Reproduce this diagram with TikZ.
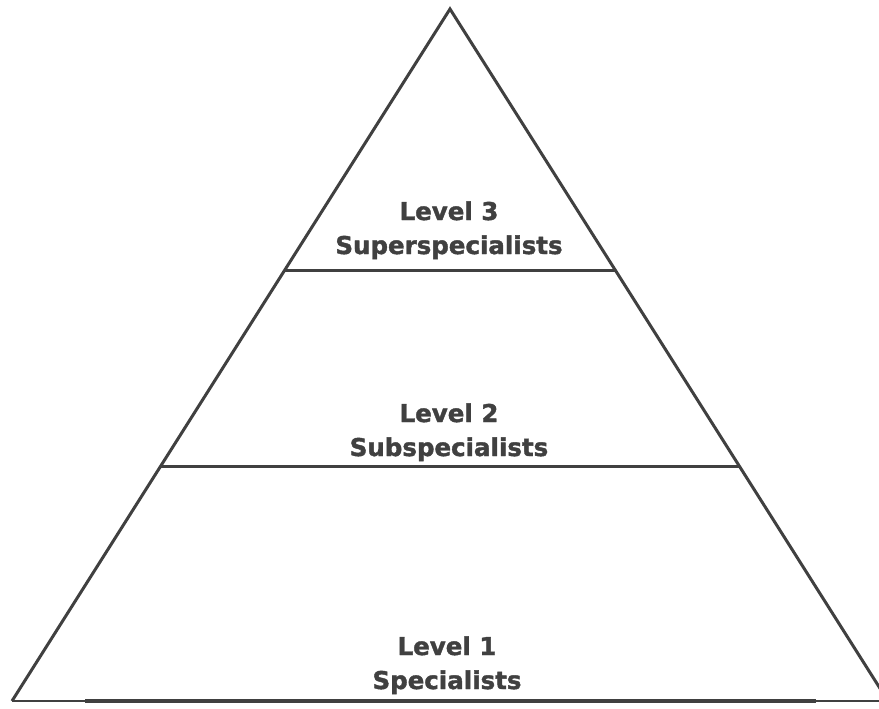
\documentclass[tikz,border=0pt]{standalone}
\usepackage{fontspec}
\setmainfont{DejaVu Sans}[BoldFeatures={FakeBold=1.6}]
\definecolor{pyrgray}{HTML}{404040}
\begin{document}
\begin{tikzpicture}[x=1pt,y=-1pt]
    \tikzstyle{every node}+=[inner sep=0pt, text=pyrgray, font=\fontsize{24.5}{30}\selectfont\bfseries]
    \tikzstyle{edge}=[draw=pyrgray, line width=3pt]
    \clip (0,0) rectangle (879,709);
    % outline of the pyramid
    \coordinate (top) at (450,9);
    \coordinate (bl) at (12,701);
    \coordinate (br) at (888,701);
    \draw [edge] (bl) -- (top) -- (br);
    \draw [draw=pyrgray, line width=2pt] (bl) -- (br);
    \draw [draw=pyrgray, line width=4pt] (85,701) -- (816,701);
    % dividers
    \draw [edge] (285,270) -- (615,270);
    \draw [edge] (161,466) -- (739,466);
    % labels
    \node [anchor=base] (lvl3) at (449,220) {Level 3};
    \node [anchor=base] (lvl3name) at (449,254) {Superspecialists};
    \node [anchor=base] (lvl2) at (449,422) {Level 2};
    \node [anchor=base] (lvl2name) at (449,456) {Subspecialists};
    \node [anchor=base] (lvl1) at (447,655) {Level 1};
    \node [anchor=base] (lvl1name) at (447,689) {Specialists};
\end{tikzpicture}
\end{document}
